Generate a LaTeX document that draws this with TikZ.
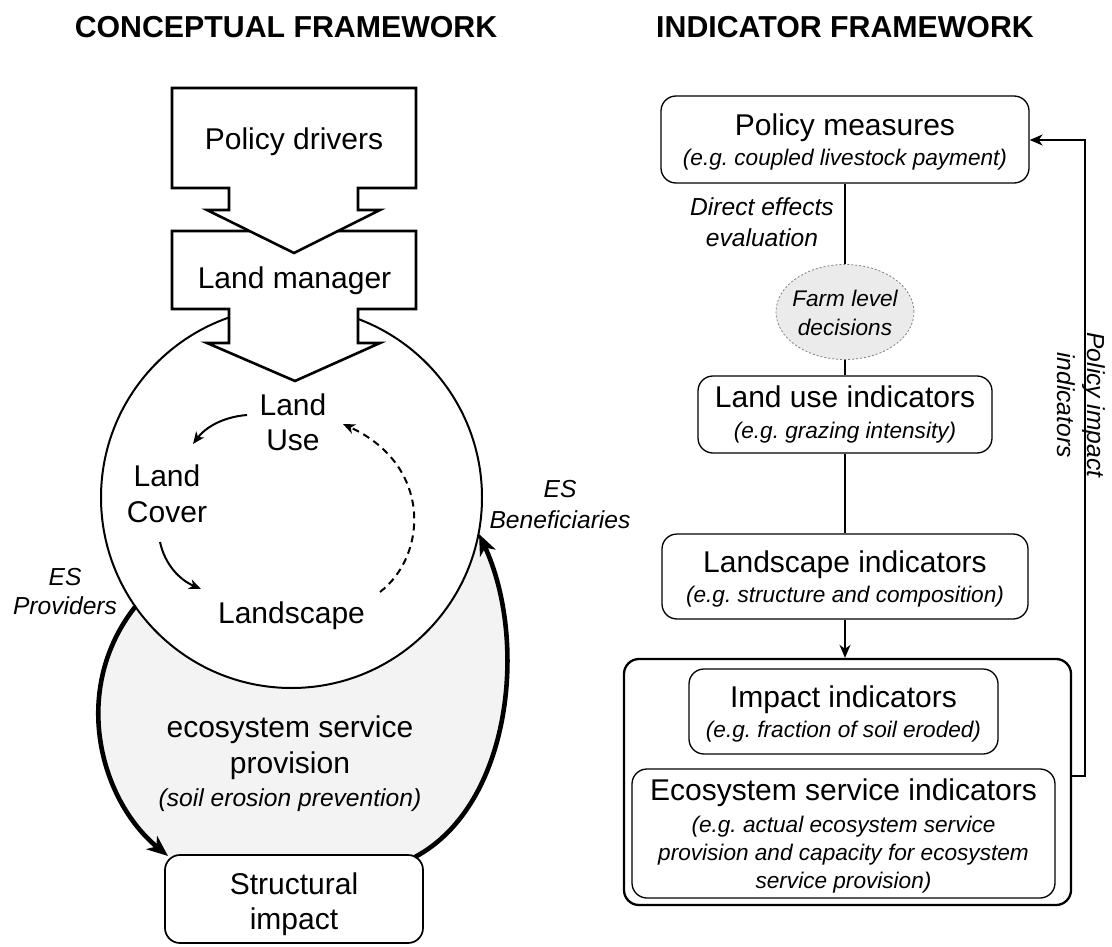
\documentclass[tikz,border=0pt]{standalone}
\usepackage{fontspec}
\setmainfont{Liberation Sans}
\usetikzlibrary{arrows.meta,shapes.geometric}
\definecolor{esgray}{HTML}{F3F3F3}
\definecolor{farmgray}{HTML}{EBEBEB}
\frenchspacing
\begin{document}
\begin{tikzpicture}[x=1pt,y=-1pt,
  lbl/.style={font=\fontsize{30}{36}\selectfont, inner sep=0pt, anchor=base},
  sub/.style={font=\fontsize{22.6}{28}\selectfont\itshape, inner sep=0pt, anchor=base},
  note/.style={font=\fontsize{24.6}{30}\selectfont\itshape, inner sep=0pt, anchor=base},
  farmtxt/.style={font=\fontsize{22.6}{28}\selectfont\itshape, inner sep=0pt, anchor=base},
  ttl/.style={font=\fontsize{30.3}{36}\selectfont\bfseries, inner sep=0pt, anchor=base},
  ibox/.style={draw, line width=1.3pt, rounded corners=15pt, fill=white, inner sep=0pt},
  blockarrow/.style={draw, line width=2.6pt, fill=white, line join=miter},
  link/.style={line width=1.7pt},
  smalltip/.style={-{Stealth[length=12pt,width=10pt,inset=3.5pt]}},
  bigtip/.style={-{Stealth[length=21pt,width=17pt,inset=6pt]}},
  linktip/.style={-{Stealth[length=13pt,width=11pt,inset=4pt]}},
]
\useasboundingbox (0,0) rectangle (1112,947);

% headings
\node[ttl] (t1) at (286,38) {CONCEPTUAL FRAMEWORK};
\node[ttl] (t2) at (845,38) {INDICATOR FRAMEWORK};

% ================= conceptual framework =================
\coordinate (cc) at (291.5,497.5);
\coordinate (prov) at (135,607);
\coordinate (bene) at (479,534);
\coordinate (siL) at (168,856);
\coordinate (siR) at (415,857);

% shaded band of service provision
\fill[esgray] (prov) .. controls (70,690) and (100,800) .. (siL)
  -- (siR) .. controls (512,805) and (528,640) .. (bene) -- cycle;

% landscape circle
\draw[line width=2pt, fill=white] (cc) circle[radius=190.5];

% structural impact box
\node[ibox, line width=1.7pt, minimum width=258pt, minimum height=88pt] (si) at (294,899) {};
\node[lbl] (si1) at (294,894) {Structural};
\node[lbl] (si2) at (294,929) {impact};

% provider and beneficiary flows
\draw[line width=4.6pt, bigtip] (prov) .. controls (70,690) and (100,800) .. (siL);
\draw[line width=4.6pt, bigtip] (siR) .. controls (512,805) and (528,640) .. (bene);

% block arrows: land manager, then policy drivers on top
\draw[blockarrow] (172,231) -- (416,231) -- (416,309) -- (358,309) -- (358,343)
  -- (380,343) -- (295,381) -- (207,343) -- (229,343) -- (229,309) -- (172,309) -- cycle;
\draw[blockarrow] (172,88) -- (416,88) -- (416,188) -- (358,188) -- (358,210)
  -- (380,210) -- (294,253) -- (207,210) -- (229,210) -- (229,188) -- (172,188) -- cycle;
\node[lbl] (pd) at (294,150) {Policy drivers};
\node[lbl] (lm) at (294.5,288) {Land manager};

% cycle inside the circle
\node[lbl] (lu1) at (293,415) {Land};
\node[lbl] (lu2) at (293,450) {Use};
\node[lbl] (lc1) at (167,486) {Land};
\node[lbl] (lc2) at (167,522) {Cover};
\node[lbl] (lsc) at (291.5,623) {Landscape};

\coordinate (a1s) at (247,415);
\coordinate (a1e) at (193,444);
\coordinate (a2s) at (160,542);
\coordinate (a2e) at (201,589);
\coordinate (a3s) at (380,592);
\coordinate (a3e) at (343,424);
\draw[line width=2pt, smalltip] (a1s) .. controls (222,417) and (205,428) .. (a1e);
\draw[line width=2pt, smalltip] (a2s) .. controls (165,565) and (180,580) .. (a2e);
\draw[line width=2pt, smalltip, dash pattern=on 7pt off 5pt] (a3s) .. controls (428,555) and (432,465) .. (a3e);

% provision labels
\node[lbl] (ep1) at (290,737) {ecosystem service};
\node[lbl] (ep2) at (290,773) {provision};
\node[note] (ep3) at (290,806) {(soil erosion prevention)};

\node[note] (esp1) at (65,585) {ES};
\node[note] (esp2) at (65,614) {Providers};
\node[note] (esb1) at (560,497) {ES};
\node[note] (esb2) at (560,528) {Beneficiaries};

% ================= indicator framework =================
\node[ibox, minimum width=368pt, minimum height=87pt] (pm) at (845,139.5) {};
\node[lbl] (pm1) at (845,136) {Policy measures};
\node[sub] (pm2) at (845,166) {(e.g. coupled livestock payment)};

\node[note] (de1) at (762,215) {Direct effects};
\node[note] (de2) at (762,246) {evaluation};

\node[ellipse, draw=gray, fill=farmgray, line width=0.8pt, dash pattern=on 2pt off 2pt,
  minimum width=138pt, minimum height=95pt, inner sep=0pt] (farm) at (845,312) {};
\node[farmtxt] (fm1) at (845,306) {Farm level};
\node[farmtxt] (fm2) at (845,335) {decisions};

\node[ibox, minimum width=294pt, minimum height=77pt] (lui) at (845,414.5) {};
\node[lbl] (lui1) at (845,407) {Land use indicators};
\node[sub] (lui2) at (845,438) {(e.g. grazing intensity)};

\node[ibox, minimum width=366pt, minimum height=85pt] (lsi) at (845,576.5) {};
\node[lbl] (lsi1) at (845,572) {Landscape indicators};
\node[sub] (lsi2) at (845,602) {(e.g. structure and composition)};

\node[ibox, line width=2.3pt, minimum width=447pt, minimum height=246pt] (outer) at (847.5,782) {};

\node[ibox, minimum width=309pt, minimum height=85pt] (imp) at (843.5,711.5) {};
\node[lbl] (imp1) at (843.5,707) {Impact indicators};
\node[sub] (imp2) at (843.5,737) {(e.g. fraction of soil eroded)};

\node[ibox, minimum width=423pt, minimum height=129pt] (esi) at (843.5,833.5) {};
\node[lbl] (esi1) at (843.5,800) {Ecosystem service indicators};
\node[sub] (esi2) at (843.5,832) {(e.g. actual ecosystem service};
\node[sub] (esi3) at (843.5,860) {provision and capacity for ecosystem};
\node[sub] (esi4) at (843.5,888) {service provision)};

% vertical chain
\draw[link] (pm.south -| farm.north) -- (farm.north);
\draw[link] (farm.south) -- (farm.south |- lui.north);
\draw[link] (lui.south) -- (lui.south |- lsi.north);
\draw[link, linktip] (lsi.south) -- (lsi.south |- outer.north);

% feedback loop
\coordinate (fbA) at (1085,776);
\coordinate (fbB) at (1085,140);
\draw[link, linktip, line join=miter] (outer.east |- fbA) -- (fbA) -- (fbB) -- (fbB -| pm.east);
\node[note, rotate=-90] (pi1) at (1087,405) {Policy impact};
\node[note, rotate=-90] (pi2) at (1057,405) {indicators};

\end{tikzpicture}
\end{document}
